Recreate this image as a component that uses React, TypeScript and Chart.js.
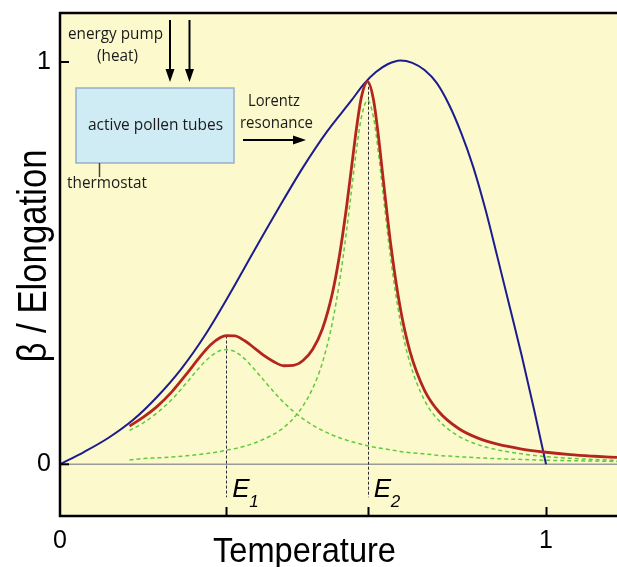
import React, { useEffect, useRef } from "react";
import { Chart, registerables } from "chart.js";

Chart.register(...registerables);

// ---- axis ticks ----
const xTickValues = [0, 1];
const xTickLabels = ["0", "1"];
const yTickValues = [0, 1];
const yTickLabels = ["0", "1"];
const xRange = [0, 1.146];
const yRange = [-0.1285, 1.1218];

// ---- blue envelope (elongation vs temperature) ----
const envelopeT = [0, 0.05, 0.1, 0.15, 0.2, 0.25, 0.3, 0.35, 0.4, 0.45, 0.5, 0.55, 0.6, 0.625, 0.65, 0.675, 0.7, 0.725, 0.75, 0.775, 0.8, 0.825, 0.85, 0.875, 0.9, 0.925, 0.95, 0.975, 1.0];
const envelopeBeta = [0, 0.031, 0.066, 0.11, 0.168, 0.238, 0.324, 0.425, 0.532, 0.637, 0.738, 0.828, 0.905, 0.945, 0.975, 0.995, 1.004, 0.998, 0.98, 0.948, 0.895, 0.825, 0.74, 0.635, 0.515, 0.393, 0.27, 0.138, 0.0];

// ---- resonance curves ----
const resonanceT = [0.143, 0.17, 0.2, 0.23, 0.26, 0.29, 0.31, 0.33, 0.342, 0.36, 0.38, 0.4, 0.42, 0.44, 0.46, 0.48, 0.5, 0.52, 0.54, 0.56, 0.575, 0.59, 0.6, 0.61, 0.62, 0.633, 0.645, 0.655, 0.665, 0.68, 0.7, 0.72, 0.75, 0.78, 0.82, 0.86, 0.9, 0.95, 1.0, 1.05, 1.1, 1.146];
const totalBeta = [0.095, 0.116, 0.144, 0.18, 0.224, 0.27, 0.297, 0.315, 0.32, 0.319, 0.307, 0.289, 0.27, 0.255, 0.245, 0.246, 0.258, 0.286, 0.337, 0.423, 0.519, 0.644, 0.74, 0.835, 0.912, 0.951, 0.906, 0.817, 0.709, 0.551, 0.389, 0.281, 0.184, 0.13, 0.089, 0.065, 0.05, 0.038, 0.03, 0.024, 0.02, 0.017];
const lorentz1Beta = [0.084, 0.102, 0.128, 0.161, 0.202, 0.245, 0.268, 0.283, 0.285, 0.28, 0.262, 0.236, 0.208, 0.18, 0.154, 0.132, 0.113, 0.097, 0.084, 0.073, 0.066, 0.06, 0.056, 0.053, 0.05, 0.046, 0.043, 0.041, 0.039, 0.036, 0.032, 0.029, 0.026, 0.022, 0.019, 0.016, 0.014, 0.012, 0.01, 0.009, 0.008, 0.007];
const lorentz2Beta = [0.011, 0.014, 0.016, 0.018, 0.021, 0.025, 0.028, 0.032, 0.035, 0.039, 0.045, 0.053, 0.063, 0.075, 0.091, 0.114, 0.145, 0.189, 0.253, 0.35, 0.453, 0.584, 0.684, 0.782, 0.862, 0.905, 0.862, 0.776, 0.67, 0.515, 0.356, 0.252, 0.159, 0.108, 0.07, 0.049, 0.036, 0.026, 0.019, 0.015, 0.012, 0.01];

// ---- resonance energies ----
const resonanceE = [0.342, 0.633];
const resonancePeak = [0.32, 0.951];
const resonanceSub = ["1", "2"];

const SANS = "Arial, 'Liberation Sans', sans-serif";
const LABEL_FONT = "'Open Sans', 'Noto Sans', sans-serif";

function fitText(
  ctx: CanvasRenderingContext2D,
  text: string,
  x: number,
  y: number,
  width: number,
  font: string,
  align: CanvasTextAlign = "left",
  angle = 0
) {
  ctx.save();
  ctx.font = font;
  const w = ctx.measureText(text).width;
  const s = width / w;
  ctx.translate(x, y);
  if (angle) ctx.rotate(angle);
  ctx.scale(s, 1);
  ctx.textAlign = align;
  ctx.textBaseline = "alphabetic";
  ctx.fillText(text, 0, 0);
  ctx.restore();
}

function arrow(ctx: CanvasRenderingContext2D, x1: number, y1: number, x2: number, y2: number) {
  const ang = Math.atan2(y2 - y1, x2 - x1);
  const head = 13;
  const half = 4.5;
  ctx.save();
  ctx.strokeStyle = "#000";
  ctx.fillStyle = "#000";
  ctx.lineWidth = 2;
  ctx.beginPath();
  ctx.moveTo(x1, y1);
  ctx.lineTo(x2 - Math.cos(ang) * (head - 2), y2 - Math.sin(ang) * (head - 2));
  ctx.stroke();
  ctx.beginPath();
  ctx.moveTo(x2, y2);
  ctx.lineTo(x2 - Math.cos(ang) * head - Math.sin(ang) * half, y2 - Math.sin(ang) * head + Math.cos(ang) * half);
  ctx.lineTo(x2 - Math.cos(ang) * head + Math.sin(ang) * half, y2 - Math.sin(ang) * head - Math.cos(ang) * half);
  ctx.closePath();
  ctx.fill();
  ctx.restore();
}

const decorPlugin = {
  id: "decor",
  beforeDraw(chart: any) {
    const { ctx, chartArea: a } = chart;
    ctx.save();
    ctx.fillStyle = "#FCFACC";
    ctx.fillRect(a.left, a.top, a.right - a.left, a.bottom - a.top);
    ctx.restore();
  },
  beforeDatasetsDraw(chart: any) {
    const { ctx, chartArea: a, scales } = chart;
    const xs = scales.x;
    const ys = scales.y;
    ctx.save();
    // zero line
    ctx.strokeStyle = "#9a9a9a";
    ctx.lineWidth = 1.5;
    ctx.beginPath();
    ctx.moveTo(a.left, ys.getPixelForValue(0));
    ctx.lineTo(a.right, ys.getPixelForValue(0));
    ctx.stroke();
    // resonance markers
    ctx.strokeStyle = "#2b2b3a";
    ctx.lineWidth = 1;
    ctx.setLineDash([3, 2]);
    resonanceE.forEach((e, i) => {
      const px = Math.round(xs.getPixelForValue(e)) + 0.5;
      ctx.beginPath();
      ctx.moveTo(px, ys.getPixelForValue(resonancePeak[i]));
      ctx.lineTo(px, ys.getPixelForValue(-0.082));
      ctx.stroke();
    });
    ctx.restore();
  },
  afterDatasetsDraw(chart: any) {
    const { ctx, chartArea: a, scales } = chart;
    const xs = scales.x;
    const ys = scales.y;
    ctx.save();
    // frame: left, top, bottom
    ctx.strokeStyle = "#000";
    ctx.lineWidth = 2.5;
    ctx.beginPath();
    ctx.moveTo(a.right + 2, a.top);
    ctx.lineTo(a.left, a.top);
    ctx.lineTo(a.left, a.bottom);
    ctx.lineTo(a.right + 2, a.bottom);
    ctx.stroke();
    // inward ticks
    ctx.lineWidth = 2;
    yTickValues.forEach((v) => {
      const py = ys.getPixelForValue(v);
      ctx.beginPath();
      ctx.moveTo(a.left, py);
      ctx.lineTo(a.left + 9, py);
      ctx.stroke();
    });
    [...resonanceE, ...xTickValues.filter((v) => v !== 0)].forEach((v) => {
      const px = Math.round(xs.getPixelForValue(v)) + 0.5;
      ctx.beginPath();
      ctx.moveTo(px, a.bottom);
      ctx.lineTo(px, a.bottom - 9);
      ctx.stroke();
    });
    // E labels
    ctx.fillStyle = "#000";
    resonanceE.forEach((e, i) => {
      const px = xs.getPixelForValue(e);
      ctx.font = `italic 26px ${SANS}`;
      ctx.textAlign = "left";
      ctx.textBaseline = "alphabetic";
      ctx.fillText("E", px + 6, 497);
      ctx.font = `italic 17px ${SANS}`;
      ctx.fillText(resonanceSub[i], px + 23, 507);
    });
    // axis titles
    ctx.fillStyle = "#000";
    fitText(ctx, "Temperature", 304.5, 561.5, 183, `35px ${SANS}`, "center");
    fitText(ctx, "\u03b2 / Elongation", 46, 256, 213, `40px ${SANS}`, "center", -Math.PI / 2);

    // inset diagram
    ctx.fillStyle = "#CFEBF4";
    ctx.fillRect(76, 88, 158, 75);
    ctx.strokeStyle = "#98AFC8";
    ctx.lineWidth = 1.5;
    ctx.strokeRect(76, 88, 158, 75);
    ctx.strokeStyle = "#444";
    ctx.lineWidth = 1.5;
    ctx.beginPath();
    ctx.moveTo(99.5, 163);
    ctx.lineTo(99.5, 177);
    ctx.stroke();
    arrow(ctx, 170, 20, 170, 82);
    arrow(ctx, 189.5, 20, 189.5, 82);
    arrow(ctx, 243, 140, 306, 140);
    ctx.fillStyle = "#1a1a1a";
    fitText(ctx, "energy pump", 68, 39, 95, `17px ${LABEL_FONT}`);
    fitText(ctx, "(heat)", 97, 61, 41, `17px ${LABEL_FONT}`);
    fitText(ctx, "active pollen tubes", 88, 130, 135, `17px ${LABEL_FONT}`);
    fitText(ctx, "Lorentz", 248, 106, 52, `17px ${LABEL_FONT}`);
    fitText(ctx, "resonance", 240, 128, 73, `17px ${LABEL_FONT}`);
    fitText(ctx, "thermostat", 67, 188, 80, `17px ${LABEL_FONT}`);
    ctx.restore();
  },
};

function pts(xs: number[], ys: number[]) {
  return xs.map((x, i) => ({ x, y: ys[i] }));
}

export default function App() {
  const ref = useRef<HTMLCanvasElement | null>(null);
  useEffect(() => {
    if (!ref.current) return;
    const chart = new Chart(ref.current, {
      type: "line",
      data: {
        datasets: [
          {
            data: pts(resonanceT, totalBeta),
            borderColor: "#B3261E",
            borderWidth: 2.8,
            pointRadius: 0,
            cubicInterpolationMode: "monotone",
            fill: false,
          },
          {
            data: pts(envelopeT, envelopeBeta),
            borderColor: "#1C1C8E",
            borderWidth: 2,
            pointRadius: 0,
            cubicInterpolationMode: "monotone",
            fill: false,
          },
          {
            data: pts(resonanceT, lorentz1Beta),
            borderColor: "#5FCB3C",
            borderWidth: 1.5,
            borderDash: [4, 3],
            pointRadius: 0,
            cubicInterpolationMode: "monotone",
            fill: false,
          },
          {
            data: pts(resonanceT, lorentz2Beta),
            borderColor: "#5FCB3C",
            borderWidth: 1.5,
            borderDash: [4, 3],
            pointRadius: 0,
            cubicInterpolationMode: "monotone",
            fill: false,
          },
        ],
      },
      options: {
        responsive: false,
        animation: false,
        devicePixelRatio: 1,
        layout: { padding: { top: 13, left: 0, right: 0, bottom: 0 } },
        plugins: { legend: { display: false }, tooltip: { enabled: false } },
        scales: {
          x: {
            type: "linear",
            min: xRange[0],
            max: xRange[1],
            grid: { display: false, drawTicks: false },
            border: { display: false },
            afterBuildTicks: (s: any) => {
              s.ticks = xTickValues.map((v) => ({ value: v }));
            },
            afterFit: (s: any) => {
              s.height = 51;
              s.paddingLeft = 0;
              s.paddingRight = 0;
            },
            ticks: {
              autoSkip: false,
              maxRotation: 0,
              padding: 10,
              color: "#000",
              font: { family: SANS, size: 25 },
              callback: (v: any) => {
                const i = xTickValues.indexOf(Number(v));
                return i >= 0 ? xTickLabels[i] : "";
              },
            },
          },
          y: {
            type: "linear",
            min: yRange[0],
            max: yRange[1],
            grid: { display: false, drawTicks: false },
            border: { display: false },
            afterBuildTicks: (s: any) => {
              s.ticks = yTickValues.map((v) => ({ value: v }));
            },
            afterFit: (s: any) => {
              s.width = 60;
              s.paddingTop = 0;
              s.paddingBottom = 0;
            },
            ticks: {
              autoSkip: false,
              padding: 9,
              color: "#000",
              font: { family: SANS, size: 25 },
              callback: (v: any) => {
                const i = yTickValues.indexOf(Number(v));
                return i >= 0 ? yTickLabels[i] : "";
              },
            },
          },
        },
      },
      plugins: [decorPlugin],
    } as any);
    return () => chart.destroy();
  }, []);
  return (
    <div style={{ position: "absolute", left: 0, top: 0, width: 617, height: 567, background: "#fff" }}>
      <canvas ref={ref} width={617} height={567} style={{ display: "block" }} />
    </div>
  );
}
